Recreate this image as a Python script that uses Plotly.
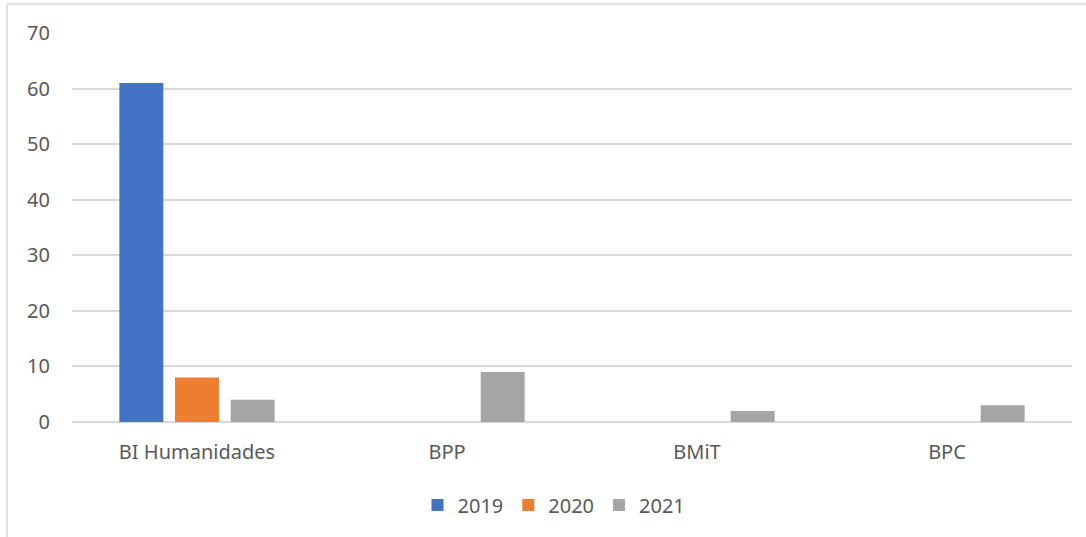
import plotly.graph_objects as go

categories = ["BI Humanidades", "BPP", "BMiT", "BPC"]
years = ["2019", "2020", "2021"]
values_2019 = [61, None, None, None]
values_2020 = [8, None, None, None]
values_2021 = [4, 9, 2, 3]
colors = ["#4472C4", "#ED7D31", "#A5A5A5"]

series = [values_2019, values_2020, values_2021]

fig = go.Figure()
for name, vals, col in zip(years, series, colors):
    fig.add_trace(go.Bar(x=categories, y=vals, name=name, marker_color=col,
                         marker_line_width=0))

W, H = 1086, 537
L, R, T, B = 72, 14, 33, 115
ph = H - T - B
pw = W - L - R

font = dict(family="Noto Sans, Open Sans, sans-serif", size=20, color="#595959")

fig.update_layout(
    width=W, height=H,
    margin=dict(l=L, r=R, t=T, b=B, autoexpand=False),
    paper_bgcolor="white", plot_bgcolor="white",
    font=font,
    barmode="group", bargap=0.332, bargroupgap=0.21,
    showlegend=True,
    legend=dict(orientation="h", x=0.482, xanchor="center", y=(422 - 505) / ph,
                yanchor="middle", font=dict(size=20, color="#595959"),
                itemwidth=30, traceorder="normal"),
    xaxis=dict(showgrid=False, showline=False, ticks="", tickfont=dict(size=20),
               ticklabelstandoff=16),
    yaxis=dict(range=[0, 70], dtick=10, showgrid=True, gridcolor="#D9D9D9",
               gridwidth=1.5, zeroline=True, zerolinecolor="#D9D9D9",
               zerolinewidth=1.5, showline=False, ticks="",
               tickfont=dict(size=20), ticklabelstandoff=21),
)

# chart-area border (top and left edges visible)
ytop = (H - B - 4) / ph
xleft = (7 - L) / pw
fig.add_shape(type="line", xref="paper", yref="paper", x0=xleft, x1=1.1,
              y0=ytop, y1=ytop, line=dict(color="#D9D9D9", width=1.5))
fig.add_shape(type="line", xref="paper", yref="paper", x0=xleft, x1=xleft,
              y0=ytop, y1=-0.5, line=dict(color="#D9D9D9", width=1.5))

fig.write_html("out.html", config={"displayModeBar": False},
               post_script="document.body.style.margin='0';document.body.style.overflow='hidden';")
